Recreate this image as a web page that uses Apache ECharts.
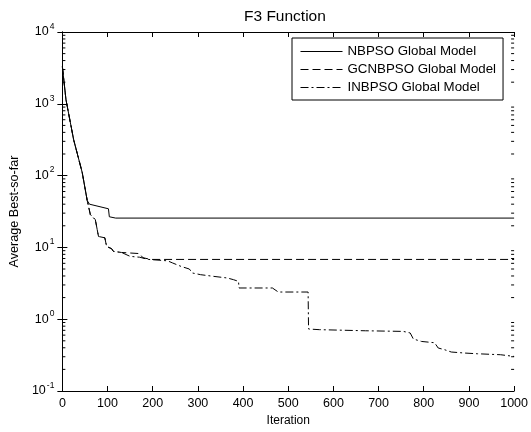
<!DOCTYPE html>
<html>
<head>
<meta charset="utf-8">
<script src="https://cdn.jsdelivr.net/npm/echarts@6/dist/echarts.min.js"></script>
<style>
  html, body { margin: 0; padding: 0; background: #fff; }
  #chart { width: 531px; height: 432px; }
</style>
</head>
<body>
<div id="chart"></div>
<script>
// Convergence curves of three PSO variants on the F3 benchmark (log scale).
const nbIter  = [0, 8, 25, 44, 55, 60, 102, 104, 118, 1000];
const nbValue = [3300, 1140, 316, 110, 45, 40, 34.5, 26.7, 25.6, 25.6];

const gcIter  = [0, 8, 25, 44, 55, 62, 73, 80, 94, 98, 109, 113, 131, 171, 178, 195, 1000];
const gcValue = [3300, 1140, 316, 110, 45, 28.6, 24.3, 14.2, 13.6, 10.3, 9.6, 8.8, 8.5, 8.2, 7.2, 6.8, 6.8];

const inIter  = [0, 8, 25, 44, 55, 62, 73, 80, 94, 98, 109, 113, 131, 150, 171, 190, 219, 233,
                 244, 263, 281, 288, 306, 335, 365, 379, 390, 391, 465, 478, 544, 545, 569, 671,
                 755, 770, 777, 795, 824, 832, 846, 861, 890, 919, 970, 1000];
const inValue = [3300, 1140, 316, 110, 45, 28.6, 24.3, 14.2, 13.6, 10.3, 9.6, 8.8, 8.5, 7.5, 7.3, 6.8, 6.6, 6.5,
                 6.07, 5.43, 5.0, 4.4, 4.17, 3.95, 3.75, 3.55, 3.36, 2.72, 2.72, 2.39, 2.39, 0.73, 0.715, 0.69,
                 0.676, 0.643, 0.53, 0.49, 0.47, 0.397, 0.376, 0.349, 0.338, 0.330, 0.32, 0.303];

const seriesNames = ['NBPSO Global Model', 'GCNBPSO Global Model', 'INBPSO Global Model'];

// minor ticks of the log axis (2..9 in every decade)
const yMinorTicks = [];
[0.1, 1, 10, 100, 1000].forEach(function (d) {
  for (let k = 2; k <= 9; k++) yMinorTicks.push(+(d * k).toPrecision(3));
});

const FONT = '"Liberation Sans", Arial, Helvetica, sans-serif';

function pairs(xs, ys) { return xs.map(function (x, i) { return [x, ys[i]]; }); }

function lineSeries(name, xs, ys, dash) {
  return {
    name: name,
    type: 'line',
    xAxisIndex: 0,
    yAxisIndex: 0,
    data: pairs(xs, ys),
    symbol: 'none',
    animation: false,
    lineStyle: { color: '#000', width: 1, type: dash },
    itemStyle: { color: '#000' },
    emphasis: { disabled: true }
  };
}

const chart = echarts.init(document.getElementById('chart'), null, { renderer: 'canvas' });

const axisLine = { show: true, lineStyle: { color: '#000', width: 1 } };

chart.setOption({
  backgroundColor: '#fff',
  animation: false,
  title: {
    text: 'F3 Function',
    left: 239,
    top: 4,
    textStyle: { fontFamily: FONT, fontSize: 15.5, fontWeight: 'normal', color: '#000' }
  },
  grid: { left: 60, right: 14, top: 32, bottom: 41, show: false },
  legend: {
    data: seriesNames,
    orient: 'vertical',
    left: 292,
    top: 38,
    itemWidth: 42,
    itemHeight: 14,
    itemGap: 5,
    padding: [7, 7, 6, 8],
    backgroundColor: '#fff',
    borderColor: '#000',
    borderWidth: 1,
    borderRadius: 0,
    selectedMode: false,
    itemStyle: { opacity: 0 },
    lineStyle: { width: 1 },
    textStyle: { fontFamily: FONT, fontSize: 13.3, color: '#000' }
  },
  xAxis: [
    {
      type: 'value', min: 0, max: 1000, interval: 100, position: 'bottom',
      name: 'Iteration', nameLocation: 'middle', nameGap: 24,
      nameTextStyle: { fontFamily: FONT, fontSize: 12, color: '#000' },
      axisLine: axisLine,
      axisTick: { show: true, inside: true, length: 5, lineStyle: { color: '#000' } },
      axisLabel: {
        fontFamily: FONT, fontSize: 12.5, color: '#000', margin: 6,
        formatter: function (v) { return String(v); }
      },
      splitLine: { show: false }
    },
    {
      type: 'value', min: 0, max: 1000, interval: 100, position: 'top',
      axisLine: axisLine,
      axisTick: { show: true, inside: true, length: 5, lineStyle: { color: '#000' } },
      axisLabel: { show: false },
      splitLine: { show: false }
    }
  ],
  yAxis: [
    {
      type: 'log', logBase: 10, min: 0.1, max: 10000, position: 'left',
      name: 'Average Best-so-far', nameLocation: 'middle', nameGap: 33,
      nameTextStyle: { fontFamily: FONT, fontSize: 12.6, color: '#000' },
      axisLine: axisLine,
      axisTick: { show: true, inside: true, length: 5, lineStyle: { color: '#000' } },
      axisLabel: {
        margin: 8,
        formatter: function (v) {
          return '{b|10}{e|' + Math.round(Math.log10(v)) + '}';
        },
        rich: {
          b: { fontFamily: FONT, fontSize: 12.5, color: '#000' },
          e: { fontFamily: FONT, fontSize: 8.5, color: '#000', padding: [0, 0, 11, 1] }
        }
      },
      splitLine: { show: false }
    },
    {
      type: 'log', logBase: 10, min: 0.1, max: 10000, position: 'right',
      axisLine: axisLine,
      axisTick: { show: true, inside: true, length: 5, lineStyle: { color: '#000' } },
      axisLabel: { show: false },
      splitLine: { show: false }
    }
  ],
  series: [
    lineSeries(seriesNames[0], nbIter, nbValue, 'solid'),
    lineSeries(seriesNames[1], gcIter, gcValue, [8, 4]),
    lineSeries(seriesNames[2], inIter, inValue, [8, 3, 2, 3]),
    {
      // short inward minor ticks on both vertical edges of the box
      type: 'custom',
      xAxisIndex: 0,
      yAxisIndex: 0,
      silent: true,
      animation: false,
      data: yMinorTicks.map(function (v) { return [0, v]; }),
      renderItem: function (params, api) {
        const v = api.value(1);
        const l = api.coord([0, v]);
        const r = api.coord([1000, v]);
        const style = { stroke: '#000', lineWidth: 1 };
        return {
          type: 'group',
          children: [
            { type: 'line', shape: { x1: l[0], y1: l[1], x2: l[0] + 3, y2: l[1] }, style: style },
            { type: 'line', shape: { x1: r[0] - 3, y1: r[1], x2: r[0], y2: r[1] }, style: style }
          ]
        };
      }
    }
  ]
});
</script>
</body>
</html>
